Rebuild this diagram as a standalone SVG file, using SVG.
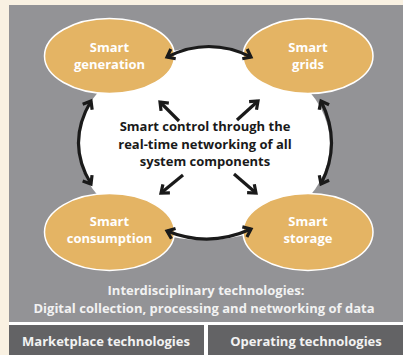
<svg xmlns="http://www.w3.org/2000/svg" width="403" height="355" viewBox="0 0 403 355">
<defs>
<style>
.node{fill:#e4b464;stroke:#ffffff;stroke-width:1.5}
.nl{font-family:"Open Sans","Noto Sans",sans-serif;font-weight:700;font-size:13px;fill:#ffffff;text-anchor:middle}
.ct{font-family:"Open Sans","Noto Sans",sans-serif;font-weight:700;font-size:13px;fill:#1a1a1a;text-anchor:middle}
.bt{font-family:"Open Sans","Noto Sans",sans-serif;font-weight:700;font-size:13px;fill:#f2f2f2;text-anchor:middle}
.arr{fill:none;stroke:#1a1a1a;stroke-width:3.2;marker-end:url(#ah)}
.dbl{marker-start:url(#ah)}
</style>
<marker id="ah" markerUnits="userSpaceOnUse" markerWidth="14" markerHeight="14" refX="9" refY="7" orient="auto-start-reverse">
<path d="M2,1.5 L9,7 L2,12.5" fill="none" stroke="#1a1a1a" stroke-width="3.2"/>
</marker>
</defs>
<rect x="0" y="0" width="403" height="355" fill="#f9f1e2"/>
<rect x="9" y="5" width="394" height="317" fill="#939396"/>
<rect x="9" y="322" width="394" height="33" fill="#ffffff"/>
<ellipse cx="204" cy="144" rx="126" ry="96" fill="#ffffff"/>
<g id="bottom-boxes">
<rect x="9" y="325" width="195" height="30" fill="#636365"/>
<rect x="208" y="325" width="195" height="30" fill="#636365"/>
<text class="bt" x="106" y="346">Marketplace technologies</text>
<text class="bt" x="306" y="346">Operating technologies</text>
</g>
<g id="smart-generation"><ellipse class="node" cx="109.5" cy="56" rx="65" ry="37.5"/><text class="nl" x="109.5" y="52">Smart</text><text class="nl" x="109.5" y="69">generation</text></g>
<g id="smart-grids"><ellipse class="node" cx="308" cy="56" rx="65" ry="37.5"/><text class="nl" x="308" y="52">Smart</text><text class="nl" x="308" y="69">grids</text></g>
<g id="smart-consumption"><ellipse class="node" cx="109.5" cy="232" rx="65" ry="38.5"/><text class="nl" x="109.5" y="226">Smart</text><text class="nl" x="109.5" y="243">consumption</text></g>
<g id="smart-storage"><ellipse class="node" cx="308" cy="232" rx="65" ry="38.5"/><text class="nl" x="308" y="226">Smart</text><text class="nl" x="308" y="243">storage</text></g>
<g id="center">
<text class="ct" x="205" y="131">Smart control through the</text>
<text class="ct" x="205" y="149">real-time networking of all</text>
<text class="ct" x="205" y="166">system components</text>
</g>
<g id="connectors">
<path class="arr dbl" d="M167,57 Q209,36 251,57"/>
<path class="arr dbl" d="M91,101 Q66,143 91,184"/>
<path class="arr dbl" d="M321,101 Q342,143 321,184"/>
<path class="arr dbl" d="M167,231 Q209,248 251,229"/>
<path class="arr" d="M179,121 L160,102"/>
<path class="arr" d="M237,120 L258,101"/>
<path class="arr" d="M183,175 L161,193"/>
<path class="arr" d="M234,174 L256,193"/>
</g>
<g id="footer-text">
<text class="bt" x="206" y="294.5">Interdisciplinary technologies:</text>
<text class="bt" x="204" y="312.5">Digital collection, processing and networking of data</text>
</g>
</svg>
